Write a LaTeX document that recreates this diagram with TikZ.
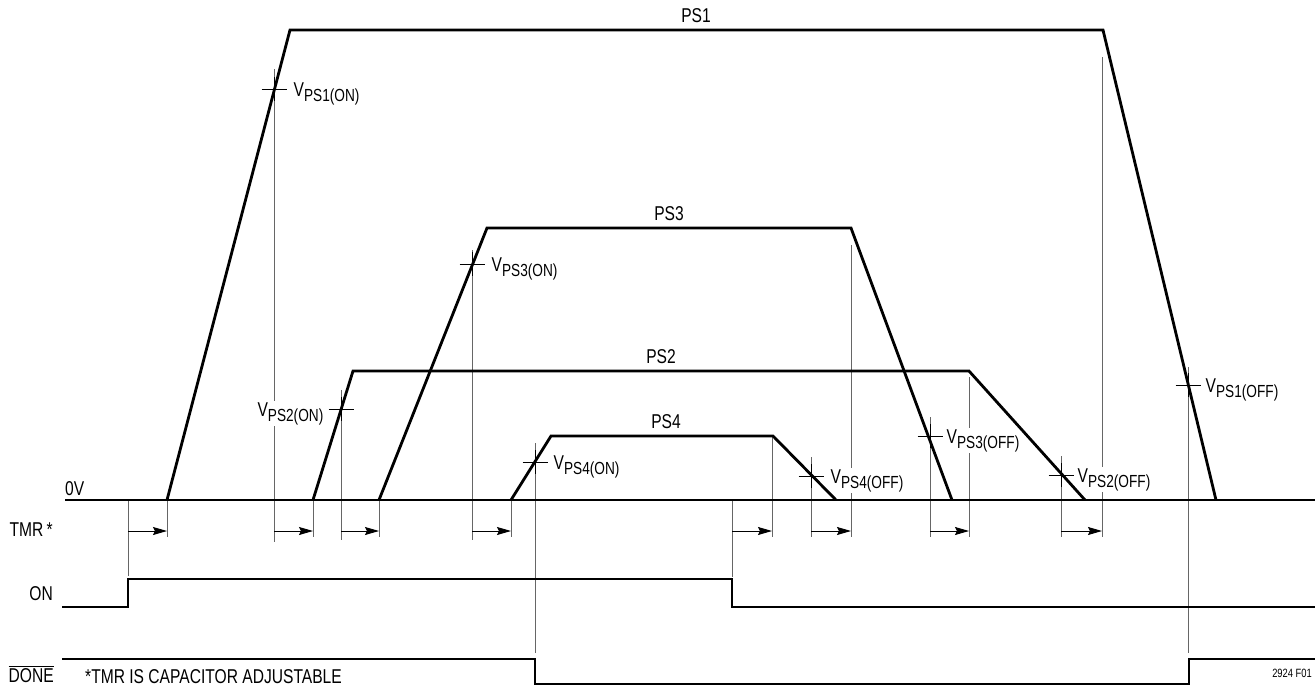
\documentclass[tikz,border=0pt]{standalone}
\usepackage{fontspec}
\setmainfont[FakeStretch=0.78]{Liberation Sans}
\usetikzlibrary{arrows.meta}
\newcommand{\Vlab}[1]{V\raisebox{-5pt}{\fontsize{17.5}{17.5}\selectfont #1}}
\begin{document}
\begin{tikzpicture}[x=1pt,y=-1pt,
  sig/.style={line width=2.8pt, line join=miter, line cap=butt},
  thinv/.style={line width=0.9pt, black!60},
  tickl/.style={line width=0.9pt, black},
  tmr/.style={line width=0.9pt, black, -{Stealth[length=14pt,width=8pt,inset=2pt]}},
  lab/.style={font=\fontsize{20}{22}\selectfont, inner sep=0pt},
  vl/.style={font=\fontsize{20}{22}\selectfont, inner sep=1.5pt, fill=white},
]
\useasboundingbox (0,0) rectangle (1315,688);

% thin vertical guide lines
\foreach \x/\a/\b in {128/500/576, 167/500/537, 274/69/542, 313/500/537, 341/390/540,
  379/500/537, 472/250/540, 511/500/537, 535/443/653, 732/500/577, 772/437/537,
  811/457/537, 851/245/537, 930/417/537, 969/377/537, 1061/456/537, 1102/57/537,
  1188/367/653}
  \draw[thinv] (\x,\a) -- (\x,\b);

% threshold labels
\node[vl, anchor=base west] (v1on) at (292,96) {\Vlab{PS1(ON)}};
\node[vl, anchor=base west] (v3on) at (490,271) {\Vlab{PS3(ON)}};
\node[vl, anchor=base east] (v2on) at (325,416) {\Vlab{PS2(ON)}};
\node[vl, anchor=base west] (v4on) at (552,469) {\Vlab{PS4(ON)}};
\node[vl, anchor=base west] (v4off) at (829,483) {\Vlab{PS4(OFF)}};
\node[vl, anchor=base west] (v3off) at (945,443) {\Vlab{PS3(OFF)}};
\node[vl, anchor=base west] (v2off) at (1076,482) {\Vlab{PS2(OFF)}};
\node[vl, anchor=base west] (v1off) at (1204,392) {\Vlab{PS1(OFF)}};

% tick crosses
\foreach \x/\y in {274/89, 472/264, 341/409, 535/462, 811/476, 930/436, 1061/475, 1188/385}{
  \draw[tickl] (\x-12.5,\y) -- (\x+12.5,\y);
  \draw[tickl] (\x,\y-12) -- (\x,\y+12);
}

% TMR arrows
\foreach \a/\b in {128/167, 274/313, 341/379, 472/511, 732/772, 811/851, 930/969, 1061/1102}
  \draw[tmr] (\a,531) -- (\b,531);

% supply waveforms
\draw[sig] (65,500) -- (1315,500);
\draw[sig] (167,500) -- (290,30) -- (1103,30) -- (1216,500);
\draw[sig] (379,500) -- (487,228) -- (851,228) -- (952,500);
\draw[sig] (313,500) -- (353,371) -- (969,371) -- (1085,500);
\draw[sig] (511,500) -- (551,436) -- (773,436) -- (836,500);

% ON and DONE
\draw[sig] (62,607) -- (128,607) -- (128,579) -- (732,579) -- (732,607) -- (1315,607);
\draw[sig] (62,659) -- (535,659) -- (535,684) -- (1189,684) -- (1189,659) -- (1315,659);

% waveform labels
\node[lab, anchor=base] (ps1) at (696,22) {PS1};
\node[lab, anchor=base] (ps3) at (669,220) {PS3};
\node[lab, anchor=base] (ps2) at (661,363) {PS2};
\node[lab, anchor=base] (ps4) at (666,428) {PS4};

% left labels
\node[lab, anchor=base west] (zero) at (65,495) {0V};
\node[lab, anchor=base east] (tmrl) at (53,536) {TMR\,*};
\node[lab, anchor=base east] (onl) at (53,600) {ON};
\node[lab, anchor=base east] (donel) at (54,682) {$\overline{\hbox{DONE}}$};
\node[lab, anchor=base west] (note) at (85,683) {*TMR IS CAPACITOR ADJUSTABLE};
\node[font=\fontsize{12}{13}\selectfont, inner sep=0pt, anchor=base east] (fig) at (1312,677) {2924 F01};
\end{tikzpicture}
\end{document}
